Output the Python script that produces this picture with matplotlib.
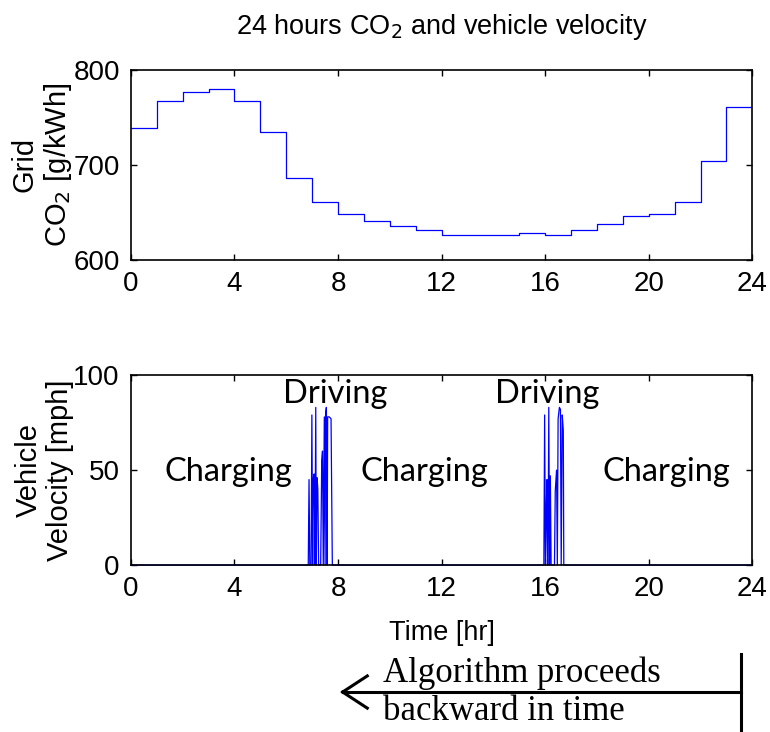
import numpy as np
import matplotlib
matplotlib.use("Agg")
import matplotlib.pyplot as plt

# hourly grid carbon intensity (g/kWh), one value per hour 0..23
hours = list(range(24))
co2 = [739, 767, 777, 780, 767, 735, 686, 661, 648, 641, 636, 631,
       626, 626, 626, 628, 626, 631, 638, 646, 648, 661, 704, 761]

# morning commute speed trace (hr, mph)
am_t = [6.85, 6.88, 6.91, 6.96, 6.99, 7.02, 7.05, 7.08, 7.11, 7.14, 7.16,
        7.19, 7.22, 7.25, 7.33, 7.37, 7.40, 7.43, 7.47, 7.50, 7.52, 7.55,
        7.58, 7.60, 7.66, 7.73, 7.78]
am_v = [0, 45, 0, 0, 79, 0, 46, 48, 0, 83, 0,
        46, 40, 0, 0, 55, 60, 0, 78, 0, 80, 83,
        0, 78, 78, 77, 0]

# evening commute speed trace (hr, mph)
pm_t = [15.95, 15.98, 16.01, 16.05, 16.07, 16.09, 16.11, 16.14, 16.17,
        16.20, 16.23, 16.36, 16.39, 16.44, 16.47, 16.50, 16.55, 16.59,
        16.62, 16.66, 16.70, 16.72]
pm_v = [0, 79, 0, 34, 45, 0, 0, 83, 0,
        47, 0, 0, 39, 50, 0, 77, 83, 82, 0, 79, 71, 0]

vel_t = [0] + am_t + pm_t + [24]
vel_v = [0] + am_v + pm_v + [0]

xticks = [0, 4, 8, 12, 16, 20, 24]

num_font = ["Liberation Sans Narrow", "Liberation Sans", "DejaVu Sans"]
plt.rcParams["font.family"] = num_font
plt.rcParams["mathtext.fontset"] = "custom"
plt.rcParams["mathtext.rm"] = "Liberation Sans Narrow"

fig = plt.figure(figsize=(7.7, 7.32), dpi=100)
ax1 = fig.add_axes([0.170, 0.645, 0.807, 0.2596])
ax2 = fig.add_axes([0.170, 0.228, 0.807, 0.2596])

ax1.step(hours + [24], co2 + [co2[-1]], where="post", color="#0000ff", lw=0.9)
ax1.set_ylim(600, 800)
ax1.set_yticks([600, 700, 800])
ax1.set_title("24 hours CO$_2$ and vehicle velocity", fontsize=19.5, pad=26)
ax1.set_ylabel("Grid\nCO$_2$ [g/kWh]", fontsize=21, linespacing=1.15)

ax2.plot(vel_t, vel_v, color="#0000ff", lw=0.9, clip_on=False)
ax2.set_ylim(0, 100)
ax2.set_yticks([0, 50, 100])
ax2.set_ylabel("Vehicle\nVelocity [mph]", fontsize=21, linespacing=1.15)
ax2.set_xlabel("Time [hr]", fontsize=19.5, labelpad=13)

for ax in (ax1, ax2):
    ax.set_xlim(0, 24)
    ax.set_xticks(xticks)
    ax.tick_params(direction="in", top=True, right=True, length=4,
                   width=1, labelsize=20, pad=8)
    for s in ax.spines.values():
        s.set_linewidth(1.2)
    ax.yaxis.set_label_coords(-0.092, 0.5)

# trip phase labels
lab = dict(fontsize=23.5, family=["Lato", "DejaVu Sans"], ha="center", va="center")
ax2.text(3.75, 49, "Charging", **lab)
ax2.text(11.35, 49, "Charging", **lab)
ax2.text(20.7, 49, "Charging", **lab)
ax2.text(7.9, 90, "Driving", **lab)
ax2.text(16.1, 90, "Driving", **lab)

# backward-in-time arrow below the plots
fig.add_artist(plt.Line2D([0.962, 0.962], [0.003, 0.107], color="black", lw=2.2))
fig.add_artist(plt.Line2D([0.445, 0.962], [0.0546, 0.0546], color="black", lw=2.2))
fig.add_artist(plt.Line2D([0.445, 0.477], [0.0546, 0.0546 + 0.022], color="black", lw=2.2))
fig.add_artist(plt.Line2D([0.445, 0.477], [0.0546, 0.0546 - 0.022], color="black", lw=2.2))
serif = dict(fontsize=25, family=["Liberation Serif", "DejaVu Serif"], ha="left", va="baseline")
fig.text(0.497, 0.068, "Algorithm proceeds", **serif)
fig.text(0.497, 0.0164, "backward in time", **serif)

fig.savefig("out.png", dpi=100)
